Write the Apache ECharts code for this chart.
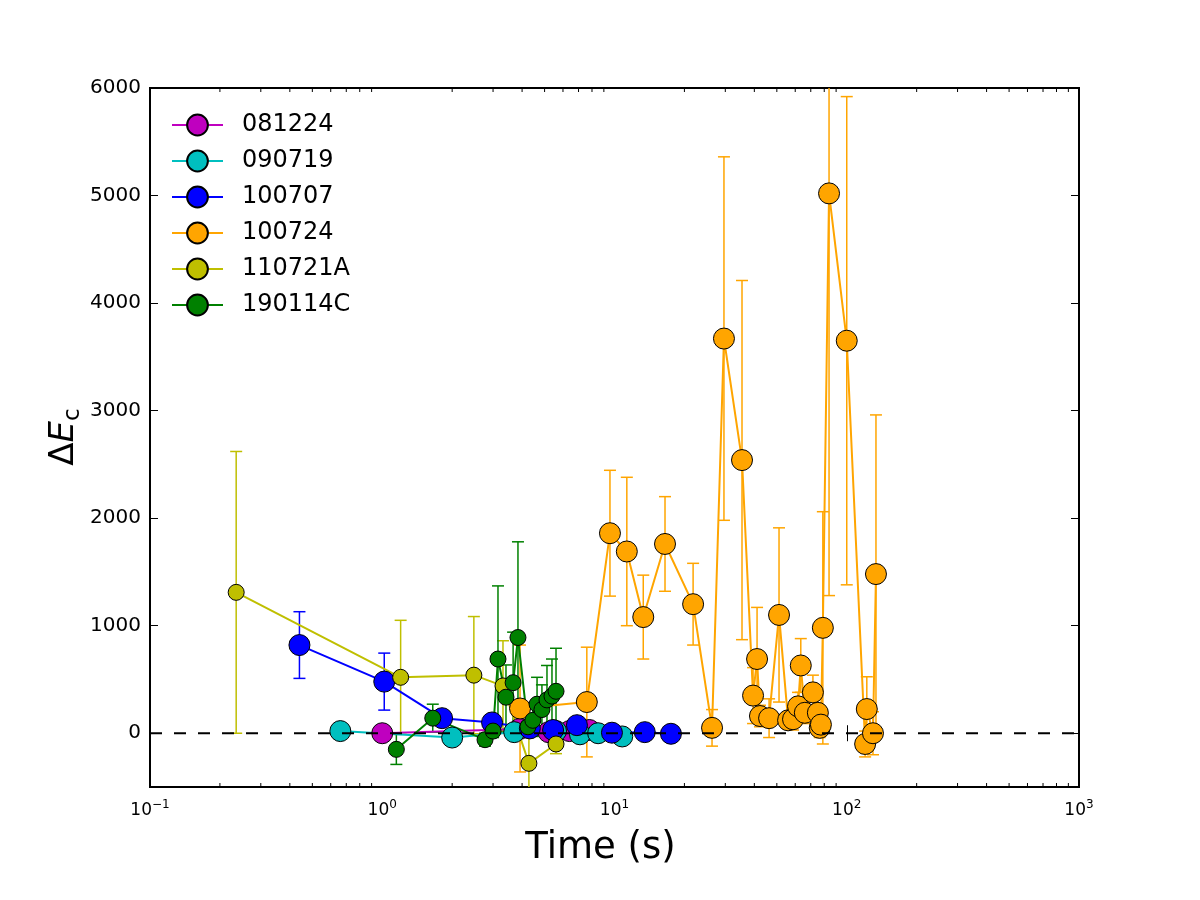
<!DOCTYPE html>
<html>
<head>
<meta charset="utf-8">
<script src="https://cdn.jsdelivr.net/npm/echarts@6/dist/echarts.min.js"></script>
<style>
  html, body { margin: 0; background: #fff; }
  #chart { width: 1200px; height: 900px; }
</style>
</head>
<body>
<div id="chart"></div>
<script>
// --- data (time in s, delta E_c, symmetric error) ---
const names = ['081224', '090719', '100707', '100724', '110721A', '190114C'];
const colors = ['#bf00bf', '#00bfbf', '#0000ff', '#ffa500', '#bfbf00', '#008000'];
const markerSizes = [21, 21, 21, 21, 16, 16];

const t081224 = [1.0, 3.9, 5.2, 6.4, 7.8];
const v081224 = [0, 40, 10, 20, 30];
const e081224 = [20, 20, 20, 20, 20];

const t090719 = [0.66, 2.0, 3.7, 5.6, 7.1, 8.5, 10.8];
const v090719 = [20, -40, 10, 20, -10, 0, -30];
const e090719 = [20, 20, 20, 20, 20, 20, 20];

const t100707 = [0.44, 1.02, 1.81, 2.97, 4.32, 5.44, 6.89, 9.75, 13.5, 17.5];
const v100707 = [820, 480, 140, 100, 45, 30, 75, 5, 10, -5];
const e100707 = [310, 265, 40, 40, 30, 30, 30, 25, 25, 25];

const t100724 = [3.92, 7.6, 9.56, 11.3, 13.3, 16.5, 21.8, 26.3, 29.6, 35.4, 39.5, 41.1,
  42.3, 46.3, 51.1, 55.9, 58.7, 61.7, 63.4, 66, 71.5, 75.1, 76.5, 77.4, 78.9, 83.9,
  100, 120, 122, 129.7, 133.6];
const v100724 = [230, 290, 1860, 1690, 1080, 1760, 1200, 50, 3670, 2540, 350, 690,
  160, 140, 1100, 120, 130, 250, 630, 190, 380, 190, 50, 80, 980, 5020,
  3650, -100, 225, 0, 1480];
const e100724 = [590, 510, 585, 690, 390, 440, 380, 170, 1690, 1670, 260, 480,
  100, 180, 810, 80, 100, 130, 250, 100, 160, 200, 90, 100, 1080, 3740,
  2270, 120, 300, 200, 1480];

const t110721A = [0.235, 1.2, 2.48, 3.31, 4.28, 5.6];
const v110721A = [1310, 520, 540, 440, -280, -100];
const e110721A = [1310, 530, 545, 420, 400, 90];

const t190114C = [1.15, 1.65, 2.77, 3.0, 3.15, 3.41, 3.66, 3.84, 4.24, 4.45, 4.64, 4.87, 5.12, 5.38, 5.6];
const v190114C = [-150, 140, -60, 20, 690, 335, 470, 890, 60, 120, 270, 220, 310, 345, 390];
const e190114C = [140, 130, 60, 60, 680, 300, 470, 890, 100, 150, 250, 230, 320, 345, 400];

const times = [t081224, t090719, t100707, t100724, t110721A, t190114C];
const values = [v081224, v090719, v100707, v100724, v110721A, v190114C];
const errors = [e081224, e090719, e100707, e100724, e110721A, e190114C];

const yTicks = [0, 1000, 2000, 3000, 4000, 5000, 6000];
const minorX = [];
[0.1, 1, 10, 100].forEach(d => { for (let m = 2; m <= 9; m++) minorX.push(+(m * d).toPrecision(3)); });

const chart = echarts.init(document.getElementById('chart'));

function errorBars(color) {
  return (params, api) => {
    const x = api.value(0);
    const lo = api.coord([x, api.value(1)]);
    const hi = api.coord([x, api.value(2)]);
    const cap = 6;
    const style = { stroke: color, lineWidth: 1.5 };
    return {
      type: 'group',
      children: [
        { type: 'line', shape: { x1: lo[0], y1: lo[1], x2: hi[0], y2: hi[1] }, style },
        { type: 'line', shape: { x1: lo[0] - cap, y1: lo[1], x2: lo[0] + cap, y2: lo[1] }, style },
        { type: 'line', shape: { x1: hi[0] - cap, y1: hi[1], x2: hi[0] + cap, y2: hi[1] }, style }
      ]
    };
  };
}

const series = [];
names.forEach((name, k) => {
  series.push({
    type: 'custom',
    name: name + ' err',
    clip: true,
    silent: true,
    renderItem: errorBars(colors[k]),
    encode: { x: 0, y: [1, 2] },
    data: times[k].map((t, i) => [t, values[k][i] - errors[k][i], values[k][i] + errors[k][i]])
  });
  series.push({
    type: 'line',
    name,
    data: times[k].map((t, i) => [t, values[k][i]]),
    symbol: 'circle',
    symbolSize: markerSizes[k],
    lineStyle: { color: colors[k], width: 2 },
    itemStyle: { color: colors[k], borderColor: '#000', borderWidth: 1 }
  });
});

// dashed zero line
series.push({
  type: 'line',
  name: 'zero',
  data: [[0.1, 0], [1000, 0]],
  symbol: 'none',
  z: 10,
  silent: true,
  lineStyle: { color: '#000', width: 2, type: [12, 12] }
});

// log minor ticks (bottom and top)
series.push({
  type: 'custom',
  name: 'minor',
  silent: true,
  clip: false,
  z: 11,
  renderItem: (params, api) => {
    const x = api.value(0);
    const b = api.coord([x, -500]);
    const t = api.coord([x, 6000]);
    const style = { stroke: '#000', lineWidth: 1 };
    return {
      type: 'group',
      children: [
        { type: 'line', shape: { x1: b[0], y1: b[1], x2: b[0], y2: b[1] - 4 }, style },
        { type: 'line', shape: { x1: t[0], y1: t[1], x2: t[0], y2: t[1] + 4 }, style }
      ]
    };
  },
  encode: { x: 0, y: 1 },
  data: minorX.map(v => [v, 0])
});

const font = 'DejaVu Sans';
const supLabel = v => {
  const e = Math.round(Math.log10(v));
  return '10{sup|' + (e < 0 ? '\u2212' + (-e) : e) + '}';
};

chart.setOption({
  animation: false,
  textStyle: { fontFamily: font },
  grid: { left: 150, right: 121, top: 88, bottom: 113, show: true, borderColor: '#000', borderWidth: 2, backgroundColor: 'transparent' },
  legend: {
    data: names,
    orient: 'vertical',
    left: 166,
    top: 107,
    itemWidth: 51,
    itemHeight: 26,
    itemGap: 10,
    textStyle: { fontSize: 24, lineHeight: 26, color: '#000', fontFamily: font, padding: [0, 0, 0, 14] }
  },
  xAxis: [
    {
      type: 'log', logBase: 10, min: 0.1, max: 1000,
      name: 'Time (s)', nameLocation: 'middle', nameGap: 43,
      nameTextStyle: { fontSize: 37, color: '#000', fontFamily: font, padding: [0, 28, 0, 0] },
      axisLine: { show: false },
      axisTick: { inside: true, length: 8, lineStyle: { color: '#000', width: 1 } },
      axisLabel: {
        color: '#000', fontSize: 17, margin: 12, lineHeight: 24, fontFamily: font,
        formatter: supLabel,
        rich: { sup: { fontSize: 12, verticalAlign: 'top', color: '#000', fontFamily: font } }
      },
      splitLine: { show: false }
    },
    {
      type: 'log', logBase: 10, min: 0.1, max: 1000, position: 'top',
      axisLine: { show: false },
      axisTick: { inside: true, length: 8, lineStyle: { color: '#000', width: 1 } },
      axisLabel: { show: false },
      splitLine: { show: false }
    }
  ],
  yAxis: [
    {
      type: 'value', min: -500, max: 6000,
      axisLine: { show: false },
      axisTick: { inside: true, length: 8, customValues: yTicks, lineStyle: { color: '#000', width: 1 } },
      axisLabel: { color: '#000', fontSize: 20, margin: 9, customValues: yTicks, fontFamily: font, formatter: v => String(v) },
      splitLine: { show: false }
    },
    {
      type: 'value', min: -500, max: 6000, position: 'right',
      axisLine: { show: false },
      axisTick: { inside: true, length: 8, customValues: yTicks, lineStyle: { color: '#000', width: 1 } },
      axisLabel: { show: false },
      splitLine: { show: false }
    }
  ],
  graphic: [{
    type: 'text',
    x: 64, y: 437,
    rotation: Math.PI / 2,
    style: {
      text: '{d|\u0394}{e|E}{s|c}',
      align: 'center',
      verticalAlign: 'middle',
      rich: {
        d: { fontSize: 34, fontFamily: font, fill: '#000', lineHeight: 42 },
        e: { fontSize: 34, fontFamily: font, fontStyle: 'italic', fill: '#000', lineHeight: 42 },
        s: { fontSize: 23, fontFamily: font, fill: '#000', verticalAlign: 'bottom', lineHeight: 42 }
      }
    }
  }],
  series
});
</script>
</body>
</html>
